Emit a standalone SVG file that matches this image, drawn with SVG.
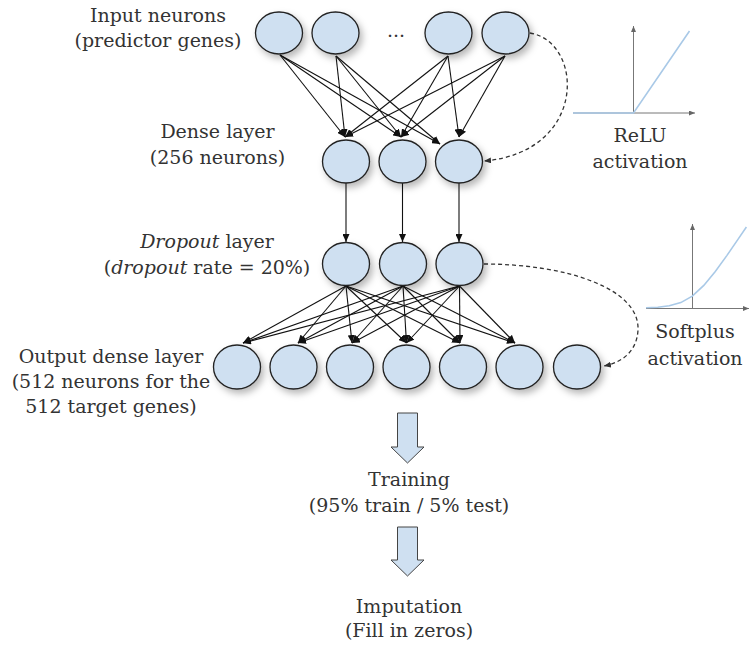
<svg xmlns="http://www.w3.org/2000/svg" width="749" height="647" viewBox="0 0 749 647">
  <style>
    .lbl { font-family: "DejaVu Serif", "Liberation Serif", serif; font-size: 19px; fill: #333; text-anchor: middle; }
    .it { font-style: italic; }
    .neuron { fill: #cfe0f1; stroke: #222; stroke-width: 1.3; filter: url(#shadow); }
    .edge { stroke: #111; stroke-width: 1.1; fill: none; marker-end: url(#arrow); }
    .dash { stroke: #333; stroke-width: 1.3; fill: none; stroke-dasharray: 4 3; marker-end: url(#arrowSmall); }
    .axis { stroke: #777; stroke-width: 1; fill: none; marker-end: url(#axisArrow); }
    .curve { stroke: #a9c9e7; stroke-width: 1.6; fill: none; }
    .block { fill: #cfe0f1; stroke: #444; stroke-width: 1; }
  </style>
  <defs>
    <filter id="shadow" x="-40%" y="-40%" width="200%" height="200%">
      <feDropShadow dx="3" dy="4" stdDeviation="3.5" flood-color="#000" flood-opacity="0.28"/>
    </filter>
    <marker id="arrow" markerUnits="userSpaceOnUse" markerWidth="8" markerHeight="7" refX="8" refY="3.5" orient="auto">
      <path d="M0,0 L8,3.5 L0,7 z" fill="#111"/>
    </marker>
    <marker id="arrowSmall" markerUnits="userSpaceOnUse" markerWidth="7" markerHeight="6" refX="7" refY="3" orient="auto">
      <path d="M0,0 L7,3 L0,6 z" fill="#333"/>
    </marker>
    <marker id="axisArrow" markerUnits="userSpaceOnUse" markerWidth="6" markerHeight="5" refX="6" refY="2.5" orient="auto">
      <path d="M0,0 L6,2.5 L0,5 z" fill="#666"/>
    </marker>
  </defs>

  <!-- connectors -->
  <g id="connectors">
    <!-- input -> dense -->
    <line class="edge" x1="280" y1="55" x2="345" y2="137"/>
    <line class="edge" x1="280" y1="55" x2="401" y2="137"/>
    <line class="edge" x1="280" y1="55" x2="440" y2="144"/>
    <line class="edge" x1="336" y1="56" x2="345" y2="137"/>
    <line class="edge" x1="336" y1="56" x2="401" y2="137"/>
    <line class="edge" x1="336" y1="56" x2="440" y2="144"/>
    <line class="edge" x1="448" y1="56" x2="345" y2="137"/>
    <line class="edge" x1="448" y1="56" x2="401" y2="137"/>
    <line class="edge" x1="448" y1="56" x2="459" y2="137"/>
    <line class="edge" x1="505" y1="56" x2="345" y2="137"/>
    <line class="edge" x1="505" y1="56" x2="401" y2="137"/>
    <line class="edge" x1="505" y1="56" x2="459" y2="137"/>
    <!-- dense -> dropout -->
    <line class="edge" x1="346" y1="183" x2="346" y2="242"/>
    <line class="edge" x1="402.5" y1="183" x2="402.5" y2="242"/>
    <line class="edge" x1="459" y1="183" x2="459" y2="242"/>
    <!-- dropout -> output -->
    <line class="edge" x1="346" y1="286" x2="243" y2="343"/>
    <line class="edge" x1="346" y1="286" x2="298" y2="343"/>
    <line class="edge" x1="346" y1="286" x2="352" y2="343"/>
    <line class="edge" x1="346" y1="286" x2="406.5" y2="343"/>
    <line class="edge" x1="346" y1="286" x2="460" y2="343"/>
    <line class="edge" x1="346" y1="286" x2="515" y2="343"/>
    <line class="edge" x1="403" y1="286" x2="243" y2="343"/>
    <line class="edge" x1="403" y1="286" x2="298" y2="343"/>
    <line class="edge" x1="403" y1="286" x2="352" y2="343"/>
    <line class="edge" x1="403" y1="286" x2="406.5" y2="343"/>
    <line class="edge" x1="403" y1="286" x2="460" y2="343"/>
    <line class="edge" x1="403" y1="286" x2="515" y2="343"/>
    <line class="edge" x1="459.5" y1="286" x2="243" y2="343"/>
    <line class="edge" x1="459.5" y1="286" x2="298" y2="343"/>
    <line class="edge" x1="459.5" y1="286" x2="352" y2="343"/>
    <line class="edge" x1="459.5" y1="286" x2="406.5" y2="343"/>
    <line class="edge" x1="459.5" y1="286" x2="460" y2="343"/>
    <line class="edge" x1="459.5" y1="286" x2="515" y2="343"/>
    <!-- activation references (dashed) -->
    <path class="dash" d="M530,33 C584,42 588,152 484,161"/>
    <path class="dash" d="M484,264 C565,264 640,288 638,330 C637,350 624,362 604,366"/>
  </g>

  <!-- input layer -->
  <g id="input-layer">
    <ellipse class="neuron" cx="279" cy="33" rx="23.5" ry="21"/>
    <ellipse class="neuron" cx="335.5" cy="33" rx="23.5" ry="21"/>
    <ellipse class="neuron" cx="448.5" cy="33" rx="23.5" ry="21"/>
    <ellipse class="neuron" cx="505.5" cy="33" rx="23.5" ry="21"/>
    <text class="lbl" x="396" y="37">...</text>
  </g>

  <!-- dense layer -->
  <g id="dense-layer">
    <ellipse class="neuron" cx="346" cy="161.5" rx="23.5" ry="21.5"/>
    <ellipse class="neuron" cx="402.5" cy="161.5" rx="23.5" ry="21.5"/>
    <ellipse class="neuron" cx="459" cy="161.5" rx="23.5" ry="21.5"/>
  </g>

  <!-- dropout layer -->
  <g id="dropout-layer">
    <ellipse class="neuron" cx="346" cy="264" rx="23.5" ry="21.5"/>
    <ellipse class="neuron" cx="403" cy="264" rx="23.5" ry="21.5"/>
    <ellipse class="neuron" cx="459.5" cy="264" rx="23.5" ry="21.5"/>
  </g>

  <!-- output layer -->
  <g id="output-layer">
    <ellipse class="neuron" cx="237" cy="367" rx="23.5" ry="22"/>
    <ellipse class="neuron" cx="293.5" cy="367" rx="23.5" ry="22"/>
    <ellipse class="neuron" cx="350" cy="367" rx="23.5" ry="22"/>
    <ellipse class="neuron" cx="406.5" cy="367" rx="23.5" ry="22"/>
    <ellipse class="neuron" cx="463" cy="367" rx="23.5" ry="22"/>
    <ellipse class="neuron" cx="519.5" cy="367" rx="23.5" ry="22"/>
    <ellipse class="neuron" cx="577" cy="367" rx="23.5" ry="22"/>
  </g>

  <!-- layer labels -->
  <g id="labels">
    <text class="lbl" x="158" y="22">Input neurons</text>
    <text class="lbl" x="158" y="47">(predictor genes)</text>
    <text class="lbl" x="217.5" y="138">Dense layer</text>
    <text class="lbl" x="217.5" y="164">(256 neurons)</text>
    <text class="lbl" x="207" y="248"><tspan class="it">Dropout</tspan> layer</text>
    <text class="lbl" x="207" y="274">(<tspan class="it">dropout</tspan> rate = 20%)</text>
    <text class="lbl" x="111" y="363">Output dense layer</text>
    <text class="lbl" x="111" y="388">(512 neurons for the</text>
    <text class="lbl" x="111" y="413">512 target genes)</text>
  </g>

  <!-- ReLU activation plot -->
  <g id="relu">
    <line class="axis" x1="573" y1="113" x2="695" y2="113"/>
    <line class="axis" x1="633.5" y1="113" x2="633.5" y2="26"/>
    <polyline class="curve" points="573,113 633.5,113 689.5,31"/>
    <text class="lbl" x="640" y="142">ReLU</text>
    <text class="lbl" x="640" y="168">activation</text>
  </g>

  <!-- Softplus activation plot -->
  <g id="softplus">
    <line class="axis" x1="646" y1="308.5" x2="749" y2="308.5"/>
    <line class="axis" x1="692.5" y1="308.5" x2="692.5" y2="224"/>
    <polyline class="curve" points="646,307.7 657.8,307.2 669.3,305.8 680.8,302.6 692.3,296.1 703.8,285.4 715.3,271.4 726.8,255.6 738.3,238.9 746.4,227"/>
    <text class="lbl" x="695" y="338">Softplus</text>
    <text class="lbl" x="695" y="365">activation</text>
  </g>

  <!-- training step -->
  <g id="training">
    <polygon class="block" points="397.5,413 417.5,413 417.5,447 424,447 407.5,463 391,447 397.5,447"/>
    <text class="lbl" x="409" y="486">Training</text>
    <text class="lbl" x="409" y="512">(95% train / 5% test)</text>
  </g>

  <!-- imputation step -->
  <g id="imputation">
    <polygon class="block" points="397.5,527 417.5,527 417.5,560 424,560 407.5,576 391,560 397.5,560"/>
    <text class="lbl" x="409" y="613">Imputation</text>
    <text class="lbl" x="409" y="637">(Fill in zeros)</text>
  </g>
</svg>
